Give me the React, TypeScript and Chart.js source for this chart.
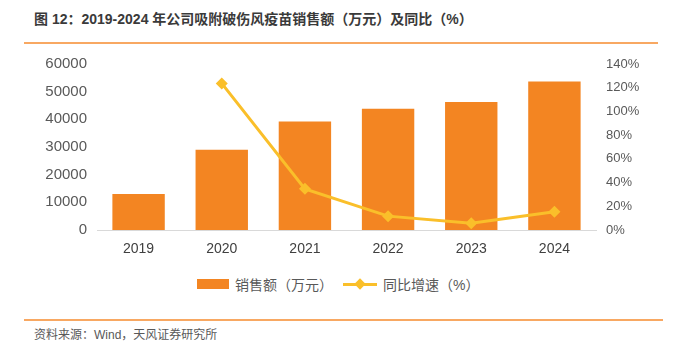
import React, { useEffect, useRef } from "react";
import { Chart, registerables } from "chart.js";

Chart.register(...registerables);

const categories = ["2019", "2020", "2021", "2022", "2023", "2024"];
const salesValues = [13000, 29000, 39200, 43800, 46300, 53700];
const growthValues = [null, 123.6, 34.7, 11.7, 5.6, 15.3];
const leftTicks = [0, 10000, 20000, 30000, 40000, 50000, 60000];
const rightTicks = [0, 20, 40, 60, 80, 100, 120, 140];

const titleText = "图 12：2019-2024 年公司吸附破伤风疫苗销售额（万元）及同比（%）";
const sourceText = "资料来源：Wind，天风证券研究所";
const barLabel = "销售额（万元）";
const lineLabel = "同比增速（%）";

const BAR_COLOR = "#F38522";
const LINE_COLOR = "#FABF2A";
const RULE_COLOR = "#F8A862";
const FONT = "'Liberation Sans', 'Noto Sans CJK SC', sans-serif";

export default function App() {
  const ref = useRef<HTMLCanvasElement | null>(null);

  useEffect(() => {
    if (!ref.current) return;
    const chart = new Chart(ref.current, {
      type: "bar",
      data: {
        labels: categories,
        datasets: [
          {
            type: "line",
            label: lineLabel,
            data: growthValues as any,
            yAxisID: "y1",
            borderColor: LINE_COLOR,
            backgroundColor: LINE_COLOR,
            borderWidth: 3,
            pointStyle: "rectRot",
            pointRadius: 6,
            pointBorderWidth: 0,
            pointBackgroundColor: LINE_COLOR,
            tension: 0,
            spanGaps: false,
            order: 0,
          } as any,
          {
            type: "bar",
            label: barLabel,
            data: salesValues,
            yAxisID: "y",
            backgroundColor: BAR_COLOR,
            borderWidth: 0,
            categoryPercentage: 1,
            barPercentage: 0.63,
            order: 1,
          } as any,
        ],
      },
      options: {
        animation: false,
        responsive: false,
        maintainAspectRatio: false,
        layout: { padding: { top: 8, left: 0, right: 0, bottom: 0 } },
        plugins: { legend: { display: false }, tooltip: { enabled: false } },
        scales: {
          x: {
            grid: { display: false, drawTicks: false },
            border: { display: true, color: "#D9D9D9", width: 1 },
            ticks: { color: "#404040", font: { size: 14, family: FONT }, padding: 11 },
            afterFit: (axis: any) => {
              axis.height = 40;
            },
          },
          y: {
            position: "left",
            min: 0,
            max: 60000,
            grid: { display: false, drawTicks: false },
            border: { display: false },
            afterBuildTicks: (axis: any) => {
              axis.ticks = leftTicks.map((v) => ({ value: v }));
            },
            ticks: {
              color: "#595959",
              font: { size: 15, family: FONT },
              padding: 10,
              callback: (v: any) => String(v),
            },
            afterFit: (axis: any) => {
              axis.width = 97;
            },
          },
          y1: {
            position: "right",
            min: 0,
            max: 140,
            grid: { display: false, drawTicks: false },
            border: { display: false },
            afterBuildTicks: (axis: any) => {
              axis.ticks = rightTicks.map((v) => ({ value: v }));
            },
            ticks: {
              color: "#595959",
              font: { size: 13, family: FONT },
              padding: 10,
              callback: (v: any) => v + "%",
            },
            afterFit: (axis: any) => {
              axis.width = 90;
            },
          },
        },
      },
    });
    return () => chart.destroy();
  }, []);

  return (
    <div
      style={{
        position: "fixed",
        left: 0,
        top: 0,
        width: 686,
        height: 347,
        background: "#fff",
        fontFamily: FONT,
        overflow: "hidden",
      }}
    >
      <div
        style={{
          position: "absolute",
          left: 34,
          top: 10,
          fontSize: 14,
          fontWeight: "bold",
          color: "#3A3A3A",
          whiteSpace: "nowrap",
          lineHeight: "18px",
        }}
      >
        {titleText}
      </div>
      <div
        style={{ position: "absolute", left: 24, top: 42, width: 634, height: 2, background: RULE_COLOR }}
      />
      <canvas
        ref={ref}
        width={686}
        height={225}
        style={{ position: "absolute", left: 0, top: 45, width: 686, height: 225 }}
      />
      <div
        style={{
          position: "absolute",
          left: 197,
          top: 276,
          display: "flex",
          alignItems: "center",
          height: 16,
          fontSize: 14,
          color: "#595959",
          whiteSpace: "nowrap",
        }}
      >
        <span style={{ display: "inline-block", width: 32, height: 10, background: BAR_COLOR, marginRight: 6 }} />
        <span style={{ marginRight: 10 }}>{barLabel}</span>
        <span style={{ position: "relative", display: "inline-block", width: 34, height: 10, marginRight: 6 }}>
          <span
            style={{
              position: "absolute",
              left: 0,
              top: 4,
              width: 34,
              height: 3,
              background: LINE_COLOR,
            }}
          />
          <span
            style={{
              position: "absolute",
              left: 13,
              top: 1,
              width: 8,
              height: 8,
              background: LINE_COLOR,
              transform: "rotate(45deg)",
            }}
          />
        </span>
        <span>{lineLabel}</span>
      </div>
      <div
        style={{ position: "absolute", left: 24, top: 319, width: 639, height: 2, background: RULE_COLOR }}
      />
      <div
        style={{
          position: "absolute",
          left: 34,
          top: 327,
          fontSize: 12,
          color: "#595959",
          whiteSpace: "nowrap",
          lineHeight: "16px",
        }}
      >
        {sourceText}
      </div>
    </div>
  );
}
